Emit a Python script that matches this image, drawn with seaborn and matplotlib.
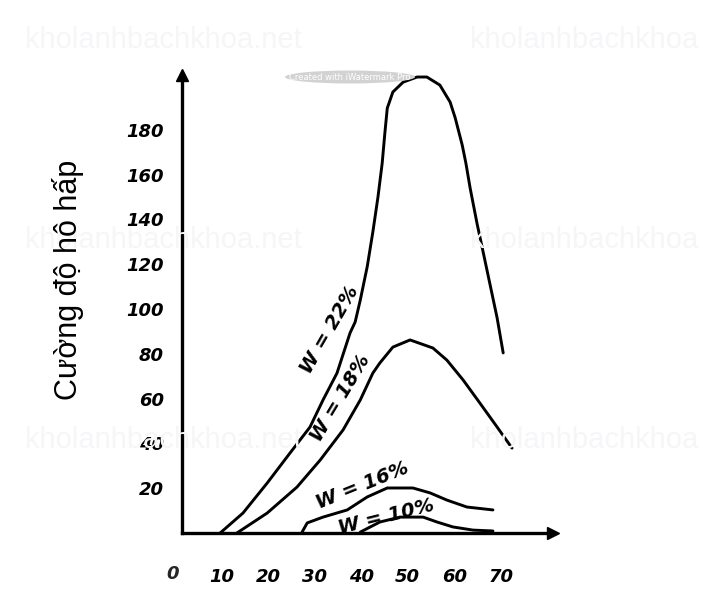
import numpy as np
import pandas as pd
import matplotlib
matplotlib.use("Agg")
import matplotlib.pyplot as plt
from matplotlib.patches import Ellipse
import seaborn as sns

# ---- data (temperature, respiration intensity) ----
w22_x = [9.7, 14.6, 19.8, 24.7, 29.0, 31.8, 34.8, 37.6, 38.7, 39.8, 41.3, 42.5, 43.6, 44.5,
         45.1, 45.6, 46.8, 49.0, 52.0, 54.1, 56.9, 59.1, 60.2, 61.7, 62.5, 63.4, 64.9, 66.2,
         67.7, 69.2, 70.5]
w22_y = [0, 8.9, 22.3, 35.7, 47.3, 59.4, 71.4, 89.3, 94.2, 104.0, 119.0, 134.4, 150.0, 165.0,
         179.0, 189.7, 196.9, 201.3, 203.6, 203.6, 200.0, 192.4, 185.3, 173.2, 165.0, 154.0,
         138.0, 125.4, 110.7, 96.0, 80.4]

w18_x = [13.3, 19.8, 26.2, 31.2, 36.1, 39.8, 42.5, 44.0, 46.8, 50.5, 55.4, 58.4, 61.9, 65.5, 69.2, 72.4]
w18_y = [0, 8.9, 20.5, 32.6, 46.0, 59.4, 71.4, 75.9, 83.0, 86.2, 82.6, 77.2, 68.3, 58.0, 47.3, 37.9]

w16_x = [27.3, 28.4, 31.8, 37.0, 41.3, 45.6, 51.1, 54.8, 58.4, 62.7, 68.3]
w16_y = [0.4, 4.5, 7.1, 10.3, 16.1, 20.1, 20.1, 17.9, 14.7, 11.6, 10.3]

w10_x = [39.8, 44.0, 48.3, 53.3, 56.3, 59.7, 64.0, 68.3]
w10_y = [0.4, 4.9, 7.1, 7.1, 4.9, 2.7, 1.3, 0.9]

series_names = ["W = 22%", "W = 18%", "W = 16%", "W = 10%"]
x_ticks = [10, 20, 30, 40, 50, 60, 70]
y_ticks = [20, 40, 60, 80, 100, 120, 140, 160, 180]
y_label = "Cường độ hô hấp"
watermark_left = "kholanhbachkhoa.net"
watermark_right = "kholanhbachkhoa"

# ---- build long table ----
frames = []
for name, xs, ys in zip(series_names, [w22_x, w18_x, w16_x, w10_x], [w22_y, w18_y, w16_y, w10_y]):
    frames.append(pd.DataFrame({"t": xs, "r": ys, "series": name}))
df = pd.concat(frames, ignore_index=True)

sns.set_style("white")
plt.rcParams["font.family"] = ["DejaVu Sans"]

fig = plt.figure(figsize=(7.03, 6.07), dpi=100)
fig.patch.set_facecolor("white")

# faint watermarks
for fy in [40, 240, 440]:
    fig.text(25 / 703, 1 - fy / 607, watermark_left, fontsize=21, color="#f6f6f8",
             family="Liberation Sans", ha="left", va="center", zorder=0)
    fig.text(470 / 703, 1 - fy / 607, watermark_right, fontsize=21, color="#f6f6f8",
             family="Liberation Sans", ha="left", va="center", zorder=0)

ax = fig.add_axes([182 / 703, 74 / 607, 371 / 703, 458 / 607])
ax.set_facecolor("none")

sns.lineplot(data=df, x="t", y="r", hue="series", units="series", estimator=None, sort=False,
             palette=["black"] * 4, legend=False, linewidth=2.1, ax=ax)
for ln in ax.get_lines():
    ln.set_clip_on(False)
    ln.set_solid_capstyle("round")
    ln.set_solid_joinstyle("round")

ax.set_xlim(1.504, 81.2)
ax.set_ylim(0, 204.5)

for s in ["top", "right"]:
    ax.spines[s].set_visible(False)
for s in ["left", "bottom"]:
    ax.spines[s].set_linewidth(2.4)
    ax.spines[s].set_color("black")

# axis arrows
ax.plot(1, 0, marker=">", markersize=8, color="black", transform=ax.transAxes, clip_on=False)
ax.plot(0, 1, marker="^", markersize=8, color="black", transform=ax.transAxes, clip_on=False)

tick_font = dict(fontsize=13, fontstyle="italic", fontweight="bold", family="DejaVu Sans")
ax.set_xticks(x_ticks)
ax.set_xticklabels([str(v) for v in x_ticks], **tick_font)
ax.set_yticks(y_ticks)
ax.set_yticklabels([str(v) for v in y_ticks], **tick_font)
ax.tick_params(axis="x", direction="inout", length=6, width=1.5, pad=22, colors="black")
ax.tick_params(axis="y", direction="inout", length=6, width=1.5, pad=10, colors="black")
ax.annotate("0", xy=(0, 0), xycoords=("data", "axes fraction"), xytext=(-2, -23),
            textcoords="offset points", ha="center", va="top", annotation_clip=False, **tick_font)

ax.set_xlabel("")
ax.set_ylabel("")
fig.text(68 / 703, 1 - 280 / 607, y_label, rotation=90, fontsize=22, family="Liberation Sans",
         ha="center", va="center", color="black")

# curve labels
label_pos = [(33.3, 90.6, 60), (35.5, 60.3, 59), (40.2, 21.0, 22), (45.3, 7.1, 14)]
for name, (lx, ly, rot) in zip(series_names, label_pos):
    ax.text(lx, ly, name, rotation=rot, rotation_mode="anchor", ha="center", va="center",
            fontsize=14, fontstyle="italic", fontweight="bold", color="black", zorder=5)

# grey stamp near the top
ell = Ellipse((350 / 703, 1 - 77 / 607), 130 / 703, 13 / 607, transform=fig.transFigure,
              facecolor="#d2d2d2", edgecolor="none", zorder=1)
fig.add_artist(ell)
fig.text(350 / 703, 1 - 77 / 607, "Created with iWatermark Pro", fontsize=6, color="white",
         ha="center", va="center", zorder=2)

fig.savefig("out.png", dpi=100)
